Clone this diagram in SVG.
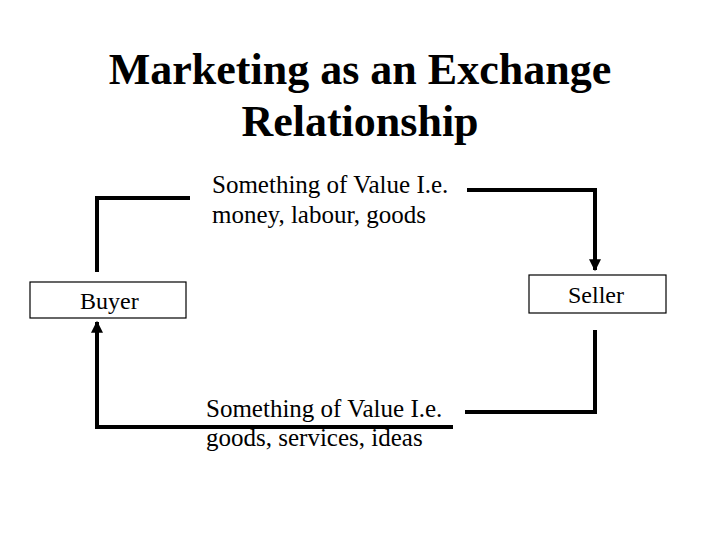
<svg xmlns="http://www.w3.org/2000/svg" width="720" height="540" viewBox="0 0 720 540">
<style>
text{font-family:"Liberation Serif","Times New Roman",serif;fill:#000}
.t{font-size:44px;font-weight:bold;text-anchor:middle}
.l{font-size:25px}
.n{font-size:24px}
.b{fill:#fff;stroke:#000;stroke-width:1.2}
.c{fill:none;stroke:#000;stroke-width:4}
</style>
<defs><marker id="a" viewBox="0 0 10 10" refX="9" refY="5" markerWidth="4" markerHeight="3" orient="auto" markerUnits="strokeWidth"><path d="M0,0L10,5L0,10z"/></marker></defs>
<rect width="720" height="540" fill="#fff"/>
<text class="t" x="360" y="84">Marketing as an Exchange</text>
<text class="t" x="360" y="136">Relationship</text>
<g id="connectors">
<path class="c" d="M97,272V198H190"/>
<path class="c" d="M467,190H595V270" marker-end="url(#a)"/>
<path class="c" d="M595,330V412H465"/>
<path class="c" d="M453,427H97V322" marker-end="url(#a)"/>
</g>
<g id="label-top"><text class="l" x="212" y="193">Something of Value I.e.</text><text class="l" x="212" y="223">money, labour, goods</text></g>
<g id="label-bottom"><text class="l" x="206" y="417">Something of Value I.e.</text><text class="l" x="206" y="446">goods, services, ideas</text></g>
<g id="buyer"><rect class="b" x="30" y="282" width="156" height="36"/><text class="n" x="80" y="309">Buyer</text></g>
<g id="seller"><rect class="b" x="529" y="275" width="137" height="38"/><text class="n" x="568" y="303">Seller</text></g>
</svg>
